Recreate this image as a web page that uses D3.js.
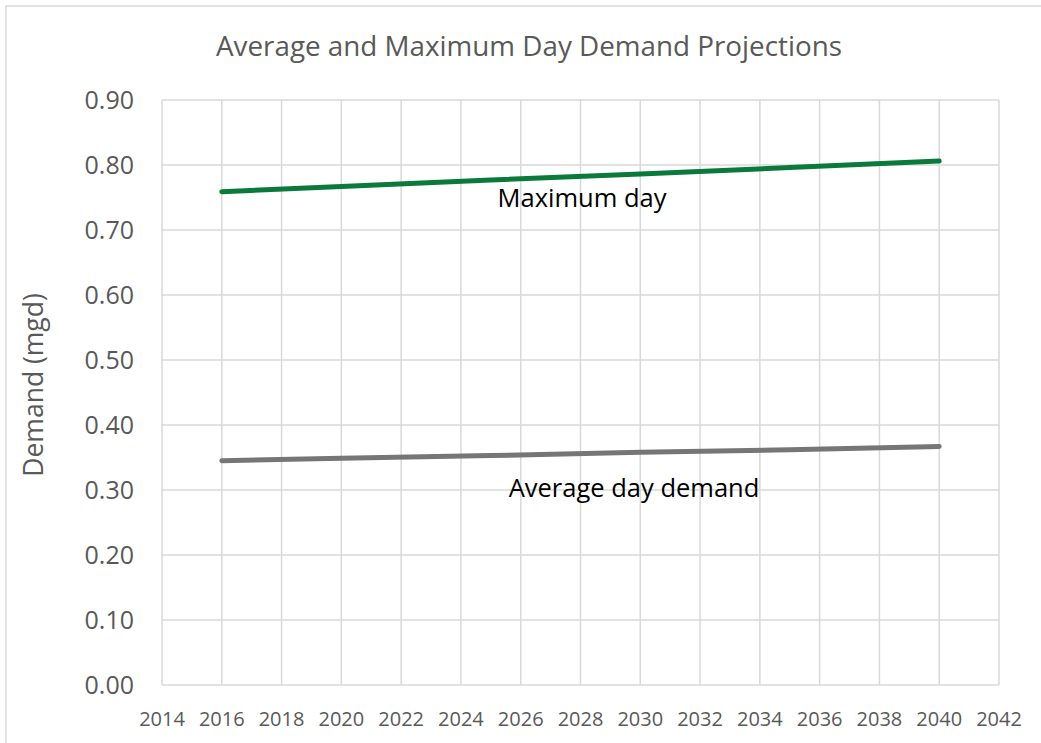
<!DOCTYPE html>
<html><head><meta charset="utf-8">
<script src="https://cdn.jsdelivr.net/npm/d3@7/dist/d3.min.js"></script>
<style>body{margin:0;background:#fff}svg{display:block}</style>
</head><body>
<svg id="c" width="1041" height="743"></svg>
<script>
const title = "Average and Maximum Day Demand Projections";
const yTitle = "Demand (mgd)";
const years = [2016, 2020, 2025, 2030, 2035, 2040];
const maxDay = [0.759, 0.767, 0.777, 0.786, 0.796, 0.806];
const avgDay = [0.345, 0.349, 0.353, 0.358, 0.362, 0.367];
const xTicks = [2014,2016,2018,2020,2022,2024,2026,2028,2030,2032,2034,2036,2038,2040,2042];
const yTicks = [0,0.1,0.2,0.3,0.4,0.5,0.6,0.7,0.8,0.9];
const seriesNames = ["Maximum day", "Average day demand"];

const svg = d3.select("#c");
const font = "'Open Sans', sans-serif";
svg.append("rect").attr("x",6).attr("y",6).attr("width",1100).attr("height",800)
  .attr("fill","#fff").attr("stroke","#d9d9d9").attr("stroke-width",1.5);

const x = d3.scaleLinear().domain([2014,2042]).range([162,999]);
const y = d3.scaleLinear().domain([0,0.9]).range([685,100]);

const g = svg.append("g");
g.selectAll(".vg").data(xTicks).enter().append("line")
  .attr("x1",d=>x(d)).attr("x2",d=>x(d)).attr("y1",y(0)).attr("y2",y(0.9))
  .attr("stroke","#d9d9d9").attr("stroke-width",1.5);
g.selectAll(".hg").data(yTicks).enter().append("line")
  .attr("x1",x(2014)).attr("x2",x(2042)).attr("y1",d=>y(d)).attr("y2",d=>y(d))
  .attr("stroke","#d9d9d9").attr("stroke-width",1.5);

g.selectAll(".yt").data(yTicks).enter().append("text")
  .attr("x",134).attr("y",d=>y(d)+9).attr("text-anchor","end")
  .attr("font-family",font).attr("font-size",25).attr("fill","#595959")
  .text(d=>d3.format(".2f")(d));
g.selectAll(".xt").data(xTicks).enter().append("text")
  .attr("x",d=>x(d)).attr("y",726).attr("text-anchor","middle")
  .attr("font-family",font).attr("font-size",20).attr("fill","#595959")
  .text(d=>d);

svg.append("text").attr("x",529).attr("y",56).attr("text-anchor","middle")
  .attr("font-family",font).attr("font-size",27.8).attr("fill","#595959").text(title);
svg.append("text").attr("transform","translate(43,385) rotate(-90)").attr("text-anchor","middle")
  .attr("font-family",font).attr("font-size",26.5).attr("fill","#595959").text(yTitle);

const line = d3.line().x(d=>x(d[0])).y(d=>y(d[1]));
g.append("path").datum(years.map((yr,i)=>[yr,maxDay[i]])).attr("d",line)
  .attr("fill","none").attr("stroke","#0a7a3a").attr("stroke-width",5).attr("stroke-linecap","round");
g.append("path").datum(years.map((yr,i)=>[yr,avgDay[i]])).attr("d",line)
  .attr("fill","none").attr("stroke","#767676").attr("stroke-width",5).attr("stroke-linecap","round");

svg.append("text").attr("x",582).attr("y",207).attr("text-anchor","middle")
  .attr("font-family",font).attr("font-size",25.5).attr("fill","#000").text(seriesNames[0]);
svg.append("text").attr("x",634).attr("y",497).attr("text-anchor","middle")
  .attr("font-family",font).attr("font-size",25.5).attr("fill","#000").text(seriesNames[1]);
</script>
</body></html>
